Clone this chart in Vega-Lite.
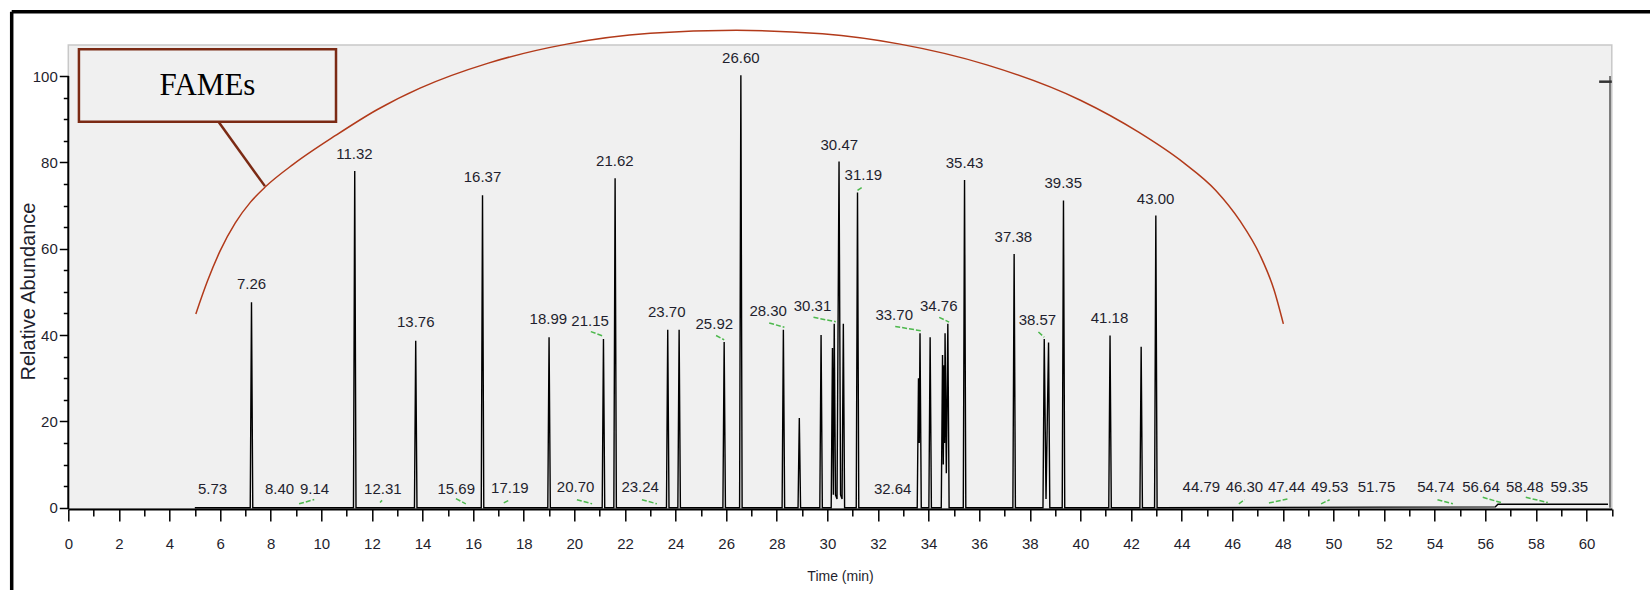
{
  "$schema": "https://vega.github.io/schema/vega-lite/v6.json",
  "width": 1543.5,
  "height": 464,
  "autosize": "none",
  "padding": {"left": 68.3, "top": 45, "right": 38.2, "bottom": 81},
  "background": "white",
  "config": {
    "view": {"fill": "#f0f0f0", "stroke": "#c8c8c8", "strokeWidth": 1.5},
    "axis": {"grid": false}
  },
  "datasets": {
    "trace": [
      {"x": 5.0, "y": 0},
      {"x": 7.19, "y": 0}, {"x": 7.24, "y": 47.6}, {"x": 7.29, "y": 0},
      {"x": 11.27, "y": 0}, {"x": 11.32, "y": 78.0}, {"x": 11.37, "y": 0},
      {"x": 13.68, "y": 0}, {"x": 13.73, "y": 38.7}, {"x": 13.78, "y": 0},
      {"x": 16.32, "y": 0}, {"x": 16.37, "y": 72.4}, {"x": 16.42, "y": 0},
      {"x": 18.95, "y": 0}, {"x": 19.0, "y": 39.5}, {"x": 19.05, "y": 0},
      {"x": 21.1, "y": 0}, {"x": 21.15, "y": 39.1}, {"x": 21.2, "y": 0},
      {"x": 21.56, "y": 0}, {"x": 21.61, "y": 76.3}, {"x": 21.66, "y": 0},
      {"x": 23.64, "y": 0}, {"x": 23.69, "y": 41.2}, {"x": 23.74, "y": 0},
      {"x": 24.09, "y": 0}, {"x": 24.14, "y": 41.2}, {"x": 24.19, "y": 0},
      {"x": 25.87, "y": 0}, {"x": 25.92, "y": 38.4}, {"x": 25.97, "y": 0},
      {"x": 26.53, "y": 0}, {"x": 26.58, "y": 100.2}, {"x": 26.63, "y": 0},
      {"x": 28.21, "y": 0}, {"x": 28.26, "y": 41.2}, {"x": 28.31, "y": 0},
      {"x": 28.84, "y": 0}, {"x": 28.89, "y": 20.8}, {"x": 28.94, "y": 0},
      {"x": 29.7, "y": 0}, {"x": 29.75, "y": 40.0}, {"x": 29.8, "y": 0},
      {"x": 30.15, "y": 0}, {"x": 30.2, "y": 37.0}, {"x": 30.235, "y": 3}, {"x": 30.27, "y": 42.6}, {"x": 30.32, "y": 3},
      {"x": 30.38, "y": 2}, {"x": 30.46, "y": 80.2}, {"x": 30.52, "y": 3}, {"x": 30.58, "y": 2}, {"x": 30.63, "y": 42.6}, {"x": 30.68, "y": 0},
      {"x": 31.14, "y": 0}, {"x": 31.19, "y": 73.0}, {"x": 31.24, "y": 0},
      {"x": 33.55, "y": 0}, {"x": 33.6, "y": 30.0}, {"x": 33.63, "y": 15}, {"x": 33.66, "y": 40.4}, {"x": 33.71, "y": 0},
      {"x": 34.01, "y": 0}, {"x": 34.06, "y": 39.5}, {"x": 34.11, "y": 0},
      {"x": 34.5, "y": 0}, {"x": 34.55, "y": 35.4}, {"x": 34.58, "y": 10}, {"x": 34.61, "y": 33.0}, {"x": 34.63, "y": 15},
      {"x": 34.65, "y": 40.4}, {"x": 34.7, "y": 8}, {"x": 34.76, "y": 42.6}, {"x": 34.81, "y": 0},
      {"x": 35.37, "y": 0}, {"x": 35.42, "y": 75.9}, {"x": 35.47, "y": 0},
      {"x": 37.33, "y": 0}, {"x": 37.38, "y": 58.8}, {"x": 37.43, "y": 0},
      {"x": 38.52, "y": 0}, {"x": 38.57, "y": 39.1}, {"x": 38.64, "y": 2}, {"x": 38.74, "y": 38.3}, {"x": 38.79, "y": 0},
      {"x": 39.28, "y": 0}, {"x": 39.33, "y": 71.2}, {"x": 39.38, "y": 0},
      {"x": 41.12, "y": 0}, {"x": 41.17, "y": 39.9}, {"x": 41.22, "y": 0},
      {"x": 42.35, "y": 0}, {"x": 42.4, "y": 37.3}, {"x": 42.45, "y": 0},
      {"x": 42.93, "y": 0}, {"x": 42.98, "y": 67.7}, {"x": 43.03, "y": 0},
      {"x": 56.4, "y": 0.2}, {"x": 56.5, "y": 0.8}, {"x": 60.85, "y": 0.8}
    ],
    "labels": [
      {"label": "5.73", "x": 5.70, "y": 4.3},
      {"label": "7.26", "x": 7.24, "y": 51.8},
      {"label": "8.40", "x": 8.35, "y": 4.3},
      {"label": "9.14", "x": 9.73, "y": 4.3},
      {"label": "11.32", "x": 11.31, "y": 82.0},
      {"label": "12.31", "x": 12.43, "y": 4.3},
      {"label": "13.76", "x": 13.73, "y": 43.1},
      {"label": "15.69", "x": 15.33, "y": 4.3},
      {"label": "16.37", "x": 16.37, "y": 76.6},
      {"label": "17.19", "x": 17.45, "y": 4.5},
      {"label": "18.99", "x": 18.97, "y": 43.7},
      {"label": "20.70", "x": 20.05, "y": 4.7},
      {"label": "21.15", "x": 20.62, "y": 43.3},
      {"label": "21.62", "x": 21.60, "y": 80.4},
      {"label": "23.24", "x": 22.60, "y": 4.7},
      {"label": "23.70", "x": 23.65, "y": 45.3},
      {"label": "25.92", "x": 25.53, "y": 42.5},
      {"label": "26.60", "x": 26.58, "y": 104.2},
      {"label": "28.30", "x": 27.66, "y": 45.5},
      {"label": "30.31", "x": 29.41, "y": 46.7},
      {"label": "30.47", "x": 30.47, "y": 84.1},
      {"label": "31.19", "x": 31.42, "y": 77.0},
      {"label": "32.64", "x": 32.58, "y": 4.4},
      {"label": "33.70", "x": 32.64, "y": 44.6},
      {"label": "34.76", "x": 34.40, "y": 46.7},
      {"label": "35.43", "x": 35.42, "y": 79.9},
      {"label": "37.38", "x": 37.35, "y": 62.7},
      {"label": "38.57", "x": 38.30, "y": 43.4},
      {"label": "39.35", "x": 39.32, "y": 75.2},
      {"label": "41.18", "x": 41.15, "y": 44.0},
      {"label": "43.00", "x": 42.97, "y": 71.6},
      {"label": "44.79", "x": 44.78, "y": 4.9},
      {"label": "46.30", "x": 46.48, "y": 4.9},
      {"label": "47.44", "x": 48.15, "y": 4.9},
      {"label": "49.53", "x": 49.85, "y": 4.9},
      {"label": "51.75", "x": 51.70, "y": 4.9},
      {"label": "54.74", "x": 54.05, "y": 4.9},
      {"label": "56.64", "x": 55.83, "y": 4.9},
      {"label": "58.48", "x": 57.56, "y": 4.9},
      {"label": "59.35", "x": 59.32, "y": 4.9}
    ],
    "integ": [
      {"x": 9.12, "x2": 9.72, "y": 0.9, "y2": 1.9},
      {"x": 12.32, "x2": 12.40, "y": 1.2, "y2": 1.7},
      {"x": 15.32, "x2": 15.71, "y": 2.1, "y2": 0.9},
      {"x": 17.21, "x2": 17.41, "y": 1.1, "y2": 1.7},
      {"x": 20.10, "x2": 20.70, "y": 1.85, "y2": 0.9},
      {"x": 22.67, "x2": 23.26, "y": 1.85, "y2": 0.9},
      {"x": 20.65, "x2": 21.17, "y": 40.8, "y2": 39.7},
      {"x": 25.60, "x2": 25.92, "y": 39.9, "y2": 38.9},
      {"x": 27.70, "x2": 28.30, "y": 42.8, "y2": 41.8},
      {"x": 29.45, "x2": 30.33, "y": 44.1, "y2": 43.1},
      {"x": 31.19, "x2": 31.42, "y": 73.5, "y2": 74.4},
      {"x": 32.68, "x2": 33.69, "y": 42.0, "y2": 41.0},
      {"x": 34.42, "x2": 34.81, "y": 44.1, "y2": 43.0},
      {"x": 38.34, "x2": 38.57, "y": 40.7, "y2": 39.5},
      {"x": 46.26, "x2": 46.49, "y": 0.9, "y2": 1.85},
      {"x": 47.45, "x2": 48.18, "y": 1.1, "y2": 2.0},
      {"x": 49.51, "x2": 49.85, "y": 0.9, "y2": 1.85},
      {"x": 54.11, "x2": 54.72, "y": 1.85, "y2": 0.9},
      {"x": 55.90, "x2": 56.62, "y": 2.4, "y2": 1.2},
      {"x": 57.60, "x2": 58.47, "y": 2.4, "y2": 1.2}
    ],
    "segs": [
      {"kind": "frame", "x": -2.237, "x2": -2.237, "y": -19.5, "y2": 114.9},
      {"kind": "frame", "x": -2.237, "x2": 62.6, "y": 114.9, "y2": 114.9},
      {"kind": "yaxis", "x": 0, "x2": 0, "y": -0.3, "y2": 100},
      {"kind": "end", "x": 60.93, "x2": 60.93, "y": 0, "y2": 100},
      {"kind": "endtick", "x": 60.5, "x2": 61.0, "y": 98.7, "y2": 98.7},
      {"kind": "pointer", "x": 5.95, "x2": 7.77, "y": 89.3, "y2": 74.5}
    ],
    "arc": [
      {"x": 5.04, "y": 44.9},
      {"x": 5.5, "y": 52.5},
      {"x": 6.0, "y": 59.5},
      {"x": 6.6, "y": 66.0},
      {"x": 7.2, "y": 70.8},
      {"x": 7.8, "y": 74.4},
      {"x": 8.9, "y": 79.6},
      {"x": 10.58, "y": 86.3},
      {"x": 12.2, "y": 92.2},
      {"x": 13.9, "y": 97.2},
      {"x": 16.6, "y": 103.0},
      {"x": 19.7, "y": 107.4},
      {"x": 23.0, "y": 109.9},
      {"x": 26.4, "y": 110.6},
      {"x": 29.8, "y": 109.8},
      {"x": 32.87, "y": 107.4},
      {"x": 36.3, "y": 102.6},
      {"x": 40.0, "y": 94.4},
      {"x": 42.3, "y": 87.0},
      {"x": 44.06, "y": 80.0},
      {"x": 45.35, "y": 73.5},
      {"x": 46.3, "y": 66.5},
      {"x": 47.1, "y": 58.5},
      {"x": 47.65, "y": 50.5},
      {"x": 48.02, "y": 42.6}
    ],
    "box": [{"x": 0.42, "x2": 10.58, "y": 106.2, "y2": 89.4}],
    "boxtext": [{"text": "FAMEs", "x": 5.5, "y": 97.7}]
  },
  "encoding": {
    "x": {
      "field": "x", "type": "quantitative",
      "scale": {"domain": [0, 61], "nice": false, "zero": false},
      "axis": {
        "values": [0,0.5,1,1.5,2,2.5,3,3.5,4,4.5,5,5.5,6,6.5,7,7.5,8,8.5,9,9.5,10,10.5,11,11.5,12,12.5,13,13.5,14,14.5,15,15.5,16,16.5,17,17.5,18,18.5,19,19.5,20,20.5,21,21.5,22,22.5,23,23.5,24,24.5,25,25.5,26,26.5,27,27.5,28,28.5,29,29.5,30,30.5,31,31.5,32,32.5,33,33.5,34,34.5,35,35.5,36,36.5,37,37.5,38,38.5,39,39.5,40,40.5,41,41.5,42,42.5,43,43.5,44,44.5,45,45.5,46,46.5,47,47.5,48,48.5,49,49.5,50,50.5,51,51.5,52,52.5,53,53.5,54,54.5,55,55.5,56,56.5,57,57.5,58,58.5,59,59.5,60,60.5,61],
        "format": "d",
        "labelExpr": "datum.value % 2 === 0 ? datum.label : ''",
        "tickSize": {"condition": {"test": "datum.value % 2 === 0", "value": 12}, "value": 7},
        "tickColor": "black", "tickWidth": 1.5,
        "domainColor": "black", "domainWidth": 2,
        "labelFont": "Liberation Sans, Arial, sans-serif",
        "labelFontSize": 15, "labelColor": "#1f1f2e", "labelPadding": 15,
        "labelOverlap": false, "labelFlush": false, "labelBound": false,
        "title": "Time (min)",
        "titleFont": "Liberation Sans, Arial, sans-serif",
        "titleFontSize": 14, "titleFontWeight": "normal", "titleColor": "#1f1f2e", "titlePadding": 18
      }
    },
    "y": {
      "field": "y", "type": "quantitative",
      "scale": {"domain": [-0.3, 107.2], "nice": false, "zero": false},
      "axis": {
        "values": [0,5,10,15,20,25,30,35,40,45,50,55,60,65,70,75,80,85,90,95,100],
        "labelExpr": "datum.value % 20 === 0 ? datum.label : ''",
        "tickSize": {"condition": {"test": "datum.value % 20 === 0", "value": 9}, "value": 5},
        "tickColor": "black", "tickWidth": 1.5,
        "domain": false,
        "labelFont": "Liberation Sans, Arial, sans-serif",
        "labelFontSize": 15, "labelColor": "#1f1f2e", "labelPadding": 2,
        "labelOverlap": false, "labelFlush": false, "labelBound": false,
        "title": "Relative Abundance",
        "titleFont": "Liberation Sans, Arial, sans-serif",
        "titleFontSize": 20, "titleFontWeight": "normal", "titleColor": "#1f1f2e",
        "titleX": -40, "titleY": 246, "titleBaseline": "middle", "titleAngle": -90
      }
    }
  },
  "layer": [
    {
      "data": {"name": "segs"},
      "transform": [{"filter": "datum.kind === 'frame'"}],
      "mark": {"type": "rule", "color": "black", "strokeWidth": 3.5},
      "encoding": {"x2": {"field": "x2"}, "y2": {"field": "y2"}}
    },
    {
      "data": {"name": "segs"},
      "transform": [{"filter": "datum.kind === 'yaxis'"}],
      "mark": {"type": "rule", "color": "black", "strokeWidth": 2},
      "encoding": {"x2": {"field": "x2"}, "y2": {"field": "y2"}}
    },
    {
      "data": {"name": "segs"},
      "transform": [{"filter": "datum.kind === 'end'"}],
      "mark": {"type": "rule", "color": "#7a7a7a", "strokeWidth": 2},
      "encoding": {"x2": {"field": "x2"}, "y2": {"field": "y2"}}
    },
    {
      "data": {"name": "segs"},
      "transform": [{"filter": "datum.kind === 'endtick'"}],
      "mark": {"type": "rule", "color": "#333333", "strokeWidth": 2.5},
      "encoding": {"x2": {"field": "x2"}, "y2": {"field": "y2"}}
    },
    {
      "data": {"name": "trace"},
      "mark": {"type": "line", "color": "black", "strokeWidth": 1.4, "interpolate": "linear"},
      "encoding": {}
    },
    {
      "data": {"name": "integ"},
      "mark": {"type": "rule", "color": "#4cb84c", "strokeWidth": 1.5, "strokeDash": [5, 2]},
      "encoding": {"x2": {"field": "x2"}, "y2": {"field": "y2"}}
    },
    {
      "data": {"name": "labels"},
      "mark": {"type": "text", "align": "center", "baseline": "middle", "font": "Liberation Sans, Arial, sans-serif", "fontSize": 15, "color": "#1f1f2e"},
      "encoding": {"text": {"field": "label"}}
    },
    {
      "data": {"name": "arc"},
      "mark": {"type": "line", "color": "#b23a1a", "strokeWidth": 1.5, "interpolate": "monotone"},
      "encoding": {}
    },
    {
      "data": {"name": "box"},
      "mark": {"type": "rect", "fill": "#f0f0f0", "stroke": "#7b2a14", "strokeWidth": 2.5},
      "encoding": {"x2": {"field": "x2"}, "y2": {"field": "y2"}}
    },
    {
      "data": {"name": "segs"},
      "transform": [{"filter": "datum.kind === 'pointer'"}],
      "mark": {"type": "rule", "color": "#7b2a14", "strokeWidth": 2.5},
      "encoding": {"x2": {"field": "x2"}, "y2": {"field": "y2"}}
    },
    {
      "data": {"name": "boxtext"},
      "mark": {"type": "text", "align": "center", "baseline": "middle", "font": "Liberation Serif, Times New Roman, serif", "fontSize": 31, "color": "black"},
      "encoding": {"text": {"field": "text"}}
    }
  ]
}
